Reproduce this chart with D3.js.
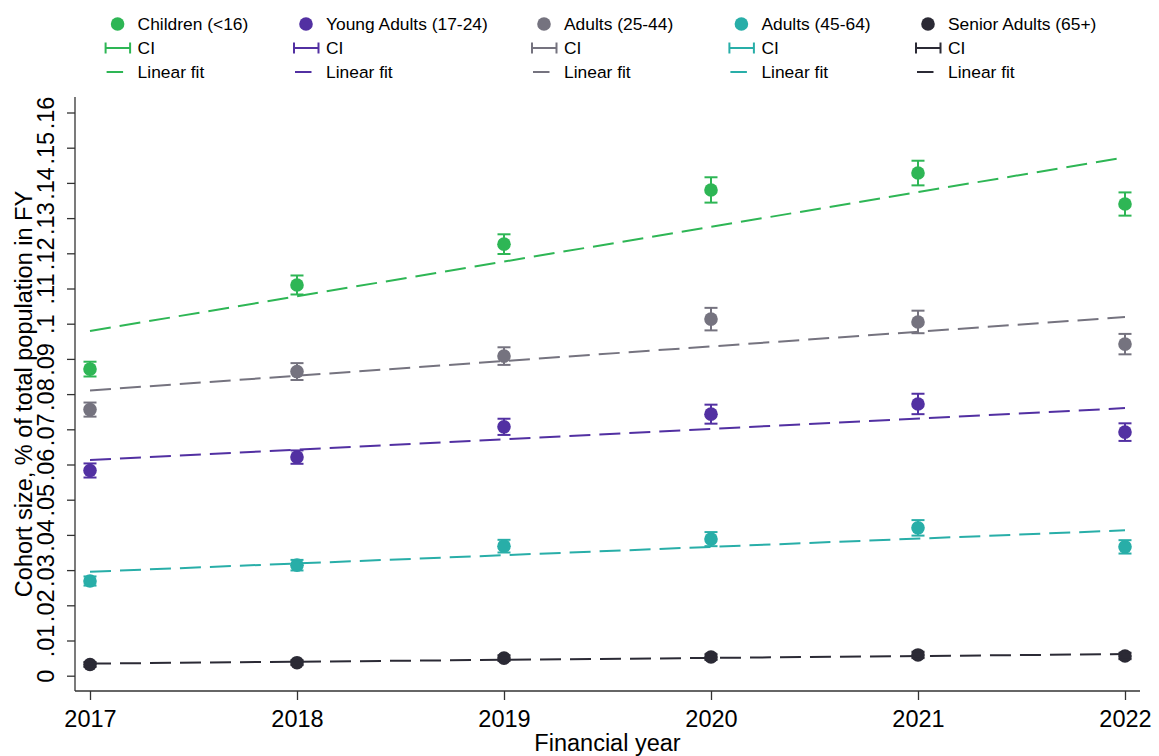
<!DOCTYPE html>
<html>
<head>
<meta charset="utf-8">
<script src="https://cdn.jsdelivr.net/npm/d3@7"></script>
<style>
  html, body { margin: 0; padding: 0; background: #fff; }
  svg { display: block; font-family: "Liberation Sans", Arial, Helvetica, sans-serif; }
</style>
</head>
<body>
<svg id="chart" width="1159" height="756"></svg>
<script>
// Financial years on the x axis
const years = [2017, 2018, 2019, 2020, 2021, 2022];

// Cohort size as a share of the total population, with CI half-widths
const children = [0.0871, 0.1110, 0.1226, 0.1380, 0.1428, 0.1340];
const childrenCI = [0.0021, 0.0027, 0.0028, 0.0036, 0.0035, 0.0033];

const youngAdults = [0.0583, 0.0621, 0.0707, 0.0743, 0.0772, 0.0692];
const youngAdultsCI = [0.0020, 0.0019, 0.0023, 0.0027, 0.0029, 0.0025];

const adults2544 = [0.0756, 0.0864, 0.0908, 0.1013, 0.1005, 0.0942];
const adults2544CI = [0.0020, 0.0024, 0.0025, 0.0032, 0.0032, 0.0029];

const adults4564 = [0.0269, 0.0314, 0.0368, 0.0388, 0.0420, 0.0366];
const adults4564CI = [0.0013, 0.0015, 0.0018, 0.0020, 0.0022, 0.0019];

const seniors = [0.0032, 0.0037, 0.0050, 0.0053, 0.0059, 0.0056];
const seniorsCI = [0.0007, 0.0007, 0.0008, 0.0008, 0.0009, 0.0009];

const seriesNames = ["Children (<16)", "Young Adults (17-24)", "Adults (25-44)", "Adults (45-64)", "Senior Adults (65+)"];

// Axis ticks
const yTicks = [0, 0.01, 0.02, 0.03, 0.04, 0.05, 0.06, 0.07, 0.08, 0.09, 0.10, 0.11, 0.12, 0.13, 0.14, 0.15, 0.16];
const yTickLabels = ["0", ".01", ".02", ".03", ".04", ".05", ".06", ".07", ".08", ".09", ".1", ".11", ".12", ".13", ".14", ".15", ".16"];
const xTickLabels = ["2017", "2018", "2019", "2020", "2021", "2022"];

// Styling
const colors = ["#2eb655", "#5230a2", "#75737f", "#28aea8", "#2b2a35"];
const seriesValues = [children, youngAdults, adults2544, adults4564, seniors];
const seriesCI = [childrenCI, youngAdultsCI, adults2544CI, adults4564CI, seniorsCI];

const series = seriesNames.map((name, i) => ({
  name,
  color: colors[i],
  points: years.map((yr, j) => ({ year: yr, value: seriesValues[i][j], half: seriesCI[i][j] }))
}));

// Ordinary least squares fit of value on year
function linearFit(pts) {
  const mx = d3.mean(pts, d => d.year);
  const my = d3.mean(pts, d => d.value);
  const sxy = d3.sum(pts, d => (d.year - mx) * (d.value - my));
  const sxx = d3.sum(pts, d => (d.year - mx) ** 2);
  const b = sxy / sxx;
  return yr => my + b * (yr - mx);
}

const svg = d3.select("#chart");
const frame = { left: 75, right: 1140, top: 97, bottom: 691 };

const x = d3.scaleLinear().domain([2017, 2022]).range([90, 1125]);
const y = d3.scaleLinear().domain([0, 0.16]).range([675.7, 112.5]);

const axisColor = "#333";
const fontSize = 23.5;

// Y axis
const yAxis = svg.append("g")
  .attr("transform", `translate(${frame.left},0)`)
  .call(d3.axisLeft(y).tickValues(yTicks).tickSize(8)
    .tickFormat((d, i) => yTickLabels[i]));
yAxis.select(".domain").remove();
yAxis.selectAll(".tick line").attr("stroke", axisColor).attr("stroke-width", 1.3);
yAxis.selectAll(".tick text")
  .attr("transform", "rotate(-90)")
  .attr("x", 0).attr("y", -21).attr("dy", 0)
  .attr("fill", "#000")
  .style("text-anchor", "middle")
  .style("font-size", fontSize + "px")
  .style("font-family", '"Liberation Sans", Arial, sans-serif');
svg.append("line")
  .attr("x1", frame.left).attr("x2", frame.left)
  .attr("y1", frame.top).attr("y2", frame.bottom)
  .attr("stroke", axisColor).attr("stroke-width", 1.3);

// X axis
const xAxis = svg.append("g")
  .attr("transform", `translate(0,${frame.bottom})`)
  .call(d3.axisBottom(x).tickValues(years).tickSize(9)
    .tickFormat((d, i) => xTickLabels[i]));
xAxis.select(".domain").remove();
xAxis.selectAll(".tick line").attr("stroke", axisColor).attr("stroke-width", 1.3);
xAxis.selectAll(".tick text")
  .attr("y", 36).attr("dy", 0)
  .attr("fill", "#000")
  .style("font-size", fontSize + "px")
  .style("font-family", '"Liberation Sans", Arial, sans-serif');
svg.append("line")
  .attr("x1", frame.left).attr("x2", frame.right)
  .attr("y1", frame.bottom).attr("y2", frame.bottom)
  .attr("stroke", axisColor).attr("stroke-width", 1.3);

// Axis titles
svg.append("text")
  .attr("transform", `translate(32,${(frame.top + frame.bottom) / 2}) rotate(-90)`)
  .attr("text-anchor", "middle")
  .style("font-size", fontSize + "px")
  .text("Cohort size, % of total population in FY");
svg.append("text")
  .attr("x", (frame.left + frame.right) / 2)
  .attr("y", 751)
  .attr("text-anchor", "middle")
  .style("font-size", fontSize + "px")
  .text("Financial year");

// Data layers
const plot = svg.append("g");
const capHalf = 6.5;

series.forEach(s => {
  const g = plot.append("g");
  // markers
  g.selectAll("circle").data(s.points).join("circle")
    .attr("cx", d => x(d.year)).attr("cy", d => y(d.value))
    .attr("r", 6.8).attr("fill", s.color);
  // confidence intervals
  const ci = g.append("g").attr("stroke", s.color).attr("stroke-width", 2);
  ci.selectAll("line.v").data(s.points).join("line").attr("class", "v")
    .attr("x1", d => x(d.year)).attr("x2", d => x(d.year))
    .attr("y1", d => y(d.value - d.half)).attr("y2", d => y(d.value + d.half));
  ci.selectAll("line.lo").data(s.points).join("line").attr("class", "lo")
    .attr("x1", d => x(d.year) - capHalf).attr("x2", d => x(d.year) + capHalf)
    .attr("y1", d => y(d.value - d.half)).attr("y2", d => y(d.value - d.half));
  ci.selectAll("line.hi").data(s.points).join("line").attr("class", "hi")
    .attr("x1", d => x(d.year) - capHalf).attr("x2", d => x(d.year) + capHalf)
    .attr("y1", d => y(d.value + d.half)).attr("y2", d => y(d.value + d.half));
  // linear fit
  const f = linearFit(s.points);
  const ends = [years[0], years[years.length - 1]];
  g.append("path")
    .datum(ends)
    .attr("d", d3.line().x(d => x(d)).y(d => y(f(d))))
    .attr("fill", "none").attr("stroke", s.color)
    .attr("stroke-width", 2).attr("stroke-dasharray", "21,9");
});

// Legend: three rows per series column
const legendMarkerX = [117.6, 306, 544, 741.4, 928];
const legendRowY = [24, 48, 72];
const legendFont = 17.4;
const legend = svg.append("g").style("font-size", legendFont + "px");

series.forEach((s, i) => {
  const cx = legendMarkerX[i];
  const tx = cx + 20;
  legend.append("circle").attr("cx", cx).attr("cy", legendRowY[0]).attr("r", 6.8).attr("fill", s.color);
  const ciSym = legend.append("g").attr("stroke", s.color).attr("stroke-width", 2);
  ciSym.append("line").attr("x1", cx - 12).attr("x2", cx + 12.5).attr("y1", legendRowY[1]).attr("y2", legendRowY[1]);
  ciSym.append("line").attr("x1", cx - 12).attr("x2", cx - 12).attr("y1", legendRowY[1] - 5.5).attr("y2", legendRowY[1] + 5.5);
  ciSym.append("line").attr("x1", cx + 12.5).attr("x2", cx + 12.5).attr("y1", legendRowY[1] - 5.5).attr("y2", legendRowY[1] + 5.5);
  legend.append("line").attr("x1", cx - 11).attr("x2", cx + 5.5)
    .attr("y1", legendRowY[2]).attr("y2", legendRowY[2])
    .attr("stroke", s.color).attr("stroke-width", 2);
  const labels = [s.name, "CI", "Linear fit"];
  labels.forEach((t, r) => {
    legend.append("text").attr("x", tx).attr("y", legendRowY[r]).attr("dy", "0.35em").text(t);
  });
});
</script>
</body>
</html>
